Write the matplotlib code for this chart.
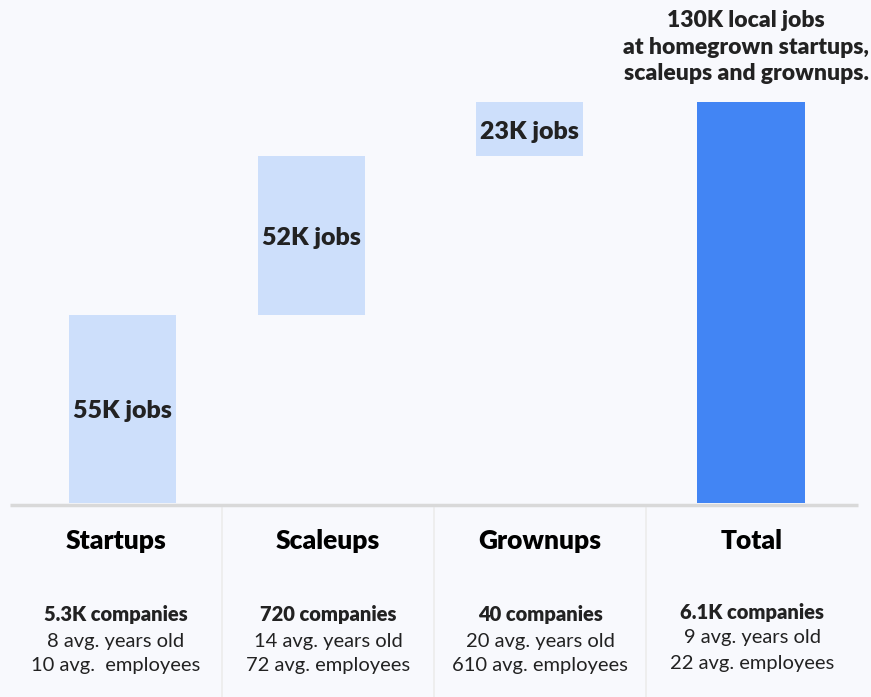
import matplotlib.pyplot as plt
import matplotlib.transforms as mtransforms

plt.rcParams['font.family'] = ['Lato', 'DejaVu Sans']

categories = ['Startups', 'Scaleups', 'Grownups', 'Total']
bar_heights = [61.0, 51.5, 17.5]   # thousand jobs, as drawn
bar_labels = ['55K jobs', '52K jobs', '23K jobs']
total_label = '130K local jobs\nat homegrown startups,\nscaleups and grownups.'
companies = ['5.3K companies', '720 companies', '40 companies', '6.1K companies']
years_old = ['8 avg. years old', '14 avg. years old', '20 avg. years old', '9 avg. years old']
employees = ['10 avg.  employees', '72 avg. employees', '610 avg. employees', '22 avg. employees']

bg = '#f8f9fd'
light = '#cddffb'
blue = '#4285f4'
dark = '#222222'

fig = plt.figure(figsize=(8.71, 6.97), dpi=100, facecolor=bg)
ax = fig.add_axes([0, 0, 1, 1])
ax.set_facecolor(bg)
ax.set_xlim(-0.547, 3.561)
ax.set_ylim(-62.9, 163.1)
ax.axis('off')

offsets = [0.03, -0.08, -0.05, -0.005]
width = 0.505

bottom = 0
for i, h in enumerate(bar_heights):
    x = i + offsets[i]
    ax.bar(x, h, bottom=bottom, width=width, color=light, zorder=2)
    ax.text(x, bottom + h / 2 - 0.8, bar_labels[i], ha='center', va='center',
            fontsize=18, fontweight='heavy', color=dark, zorder=3)
    bottom += h

total = sum(bar_heights)
xt = 3 + offsets[3]
ax.bar(xt, total, width=width, color=blue, zorder=2)
ax.text(xt - 0.022, 1 - 47 / 697, total_label, ha='center', va='center',
        transform=mtransforms.blended_transform_factory(ax.transData, fig.transFigure),
        fontsize=16.5, fontweight='heavy', color=dark, linespacing=1.33)

# bottom panel
ax.plot([-0.5, 3.5], [-0.7, -0.7], color='#d9d9d9', lw=2.5, zorder=4,
        solid_capstyle='butt')
for sep in [0.5, 1.5, 2.5]:
    ax.plot([sep, sep], [-1.5, -62.9], color='#ececec', lw=1.2, zorder=1)

trans = mtransforms.blended_transform_factory(ax.transData, fig.transFigure)
for i, cat in enumerate(categories):
    shift = 3 / 697 if i == 3 else 0
    ax.text(i, 1 - 541 / 697, cat, transform=trans, ha='center', va='center',
            fontsize=19, fontweight='heavy', color='black')
    ax.text(i, 1 - 615 / 697 + shift, companies[i], transform=trans,
            ha='center', va='center', fontsize=14.5, fontweight='heavy', color=dark)
    ax.text(i, 1 - 641 / 697 + shift, years_old[i], transform=trans,
            ha='center', va='center', fontsize=14.5, color=dark)
    ax.text(i, 1 - 666 / 697 + shift, employees[i], transform=trans,
            ha='center', va='center', fontsize=14.5, color=dark)

fig.savefig('out.png', dpi=100, facecolor=bg)
